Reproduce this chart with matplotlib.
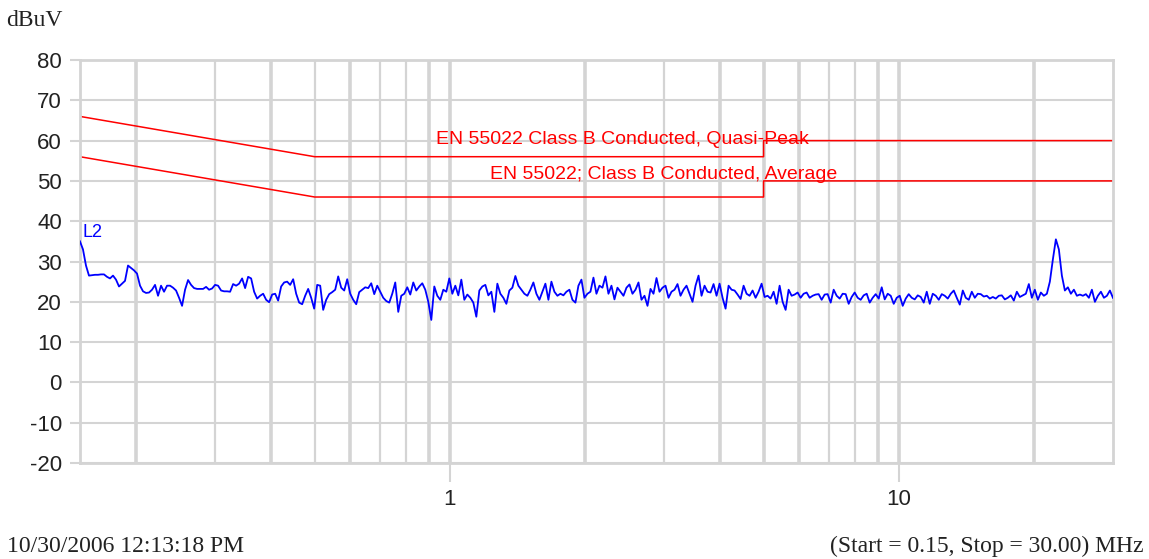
import numpy as np
import matplotlib.pyplot as plt

plt.rcParams["axes.unicode_minus"] = False

# sweep settings (MHz)
start_freq = 0.15
stop_freq = 30.0

# L2 trace, evenly spaced on the log sweep (dBuV)
trace_l2 = [
    35.0, 33.0, 29.0, 26.5, 26.6, 26.7, 26.7, 26.8, 26.8, 26.2, 25.8, 26.5, 25.5, 23.8, 24.5, 25.2,
    29.0, 28.4, 27.8, 27.0, 24.0, 22.6, 22.2, 22.3, 23.0, 24.2, 21.5, 24.0, 22.5, 24.0, 24.0, 23.5,
    22.8, 21.0, 19.0, 23.0, 25.4, 24.2, 23.4, 23.2, 23.2, 23.2, 23.7, 23.0, 23.3, 24.2, 24.0, 22.8,
    22.6, 22.6, 22.5, 24.4, 24.0, 24.5, 25.8, 23.4, 26.2, 25.8,
    22.5, 20.8, 21.5, 22.0, 20.5, 19.9, 21.8, 22.0, 20.3, 23.8, 24.8, 25.0, 24.2, 25.6, 22.0, 19.8,
    19.4, 21.5, 23.2, 21.0, 18.3, 24.2, 24.0, 18.0, 20.5, 21.9, 22.4, 23.0, 26.3, 23.5, 22.8, 25.6,
    22.0, 20.5, 19.4, 22.4, 23.0, 23.6, 23.4, 24.6, 21.9, 24.0, 22.5, 21.0, 20.2, 19.8, 22.0, 24.8,
    17.5, 21.5, 22.0, 23.6, 21.8, 24.8, 22.8, 23.8, 24.6,
    23.0, 20.0, 15.5, 23.8, 21.5, 20.5, 23.0, 22.5, 25.8, 22.0, 24.0, 21.6, 25.5, 20.5, 21.8, 21.0,
    19.8, 16.3, 22.8, 23.8, 24.2, 21.6, 22.5, 17.5, 24.5, 22.0, 21.0, 19.5, 22.8, 23.5, 26.4, 24.0,
    23.0, 22.0, 21.5, 23.0, 24.8, 22.0, 20.5, 22.5, 24.5, 20.5, 25.0, 22.5, 21.5, 22.0, 21.6, 22.5,
    23.0, 20.5, 19.8, 24.0, 25.5, 21.0, 22.0, 22.5, 26.0, 22.0,
    24.0, 23.5, 26.3, 22.0, 24.0, 20.6, 23.5, 22.5, 21.5, 23.5, 24.3, 22.0, 23.0, 24.8, 20.5, 21.5,
    19.0, 23.2, 22.0, 25.9, 22.5, 23.5, 24.0, 21.0, 22.5, 23.0, 24.4, 21.5, 23.0, 24.0, 22.0, 20.0,
    24.0, 26.5, 21.5, 24.0, 22.5, 22.3, 24.4, 21.5, 24.5, 21.0, 18.3, 24.0, 23.0, 22.8, 21.8, 20.7,
    24.0, 22.0, 21.5, 22.8, 21.0, 22.5, 24.5, 21.2, 21.5,
    20.8, 22.5, 19.5, 24.0, 20.0, 18.0, 23.0, 21.5, 21.8, 22.3, 21.0, 22.0, 22.3, 21.0, 21.5, 21.8,
    21.9, 20.5, 21.8, 21.9, 19.8, 23.0, 21.5, 20.8, 22.0, 21.9, 19.5, 21.2, 22.3, 21.0, 20.5, 21.6,
    22.0, 19.8, 21.0, 21.9, 20.8, 23.6, 20.6, 22.0, 21.5, 19.5, 21.0, 21.5, 19.0, 20.8, 21.9, 21.0,
    20.6, 21.6, 21.2, 19.8, 22.5, 19.5, 22.0, 21.5, 20.5, 21.9,
    21.5, 20.8, 22.0, 22.8, 21.0, 19.3, 22.8, 21.0, 20.5, 22.5, 21.0, 22.0, 21.9, 21.3, 21.5, 20.8,
    21.2, 20.8, 21.5, 21.6, 20.6, 21.0, 21.6, 20.3, 22.5, 21.2, 21.6, 22.0, 24.4, 21.0, 23.0, 20.5,
    22.3, 21.5, 22.0, 25.0, 30.5, 35.5, 33.0, 26.5, 22.8, 23.6, 22.0, 23.0, 21.5, 21.8, 21.5, 21.9,
    21.0, 23.0, 20.0, 21.5, 22.5, 21.0, 21.5, 22.8, 21.0,
]

# EN 55022 class B conducted limits
qp_freq = [0.15, 0.5, 5.0, 5.0, 30.0]
qp_limit = [66, 56, 56, 60, 60]
avg_freq = [0.15, 0.5, 5.0, 5.0, 30.0]
avg_limit = [56, 46, 46, 50, 50]

y_ticks = [-20, -10, 0, 10, 20, 30, 40, 50, 60, 70, 80]
x_ticks = [1, 10]
x_tick_labels = ["1", "10"]

grid_gray = "#d4d4d4"

fig = plt.figure(figsize=(11.49, 5.59), dpi=100)
ax = fig.add_axes([0.0696, 0.1717, 0.899, 0.721])

freq = np.geomspace(start_freq, stop_freq, len(trace_l2))

# vertical grid, thicker on some lines as in the original export
thick = {0.2, 0.4, 0.6, 0.9, 1, 2, 4, 5, 6, 9, 10, 20}
for dec in [0.1, 1, 10]:
    for m in range(1, 10):
        f = round(m * dec, 3)
        if f <= start_freq or f >= stop_freq:
            continue
        ax.axvline(f, color=grid_gray, lw=2.6 if f in thick else 1.6, zorder=0)
for y in y_ticks:
    ax.axhline(y, color=grid_gray, lw=1.5, zorder=0)

ax.plot(qp_freq, qp_limit, color="#ff0000", lw=1.1, zorder=2)
ax.plot(avg_freq, avg_limit, color="#ff0000", lw=1.1, zorder=2)
ax.plot(freq, trace_l2, color="#0000ff", lw=1.3, zorder=3)

ax.text(6.3, 60.2, "EN 55022 Class B Conducted, Quasi-Peak", color="#ff0000",
        fontsize=14, family="Liberation Sans", ha="right", va="center", zorder=4)
ax.text(7.3, 51.6, "EN 55022; Class B Conducted, Average", color="#ff0000",
        fontsize=14, family="Liberation Sans", ha="right", va="center", zorder=4)
ax.text(0.152, 37.3, "L2", color="#0000ff", fontsize=13, family="Liberation Sans",
        ha="left", va="center", zorder=4)

ax.set_xscale("log")
ax.set_xlim(start_freq, stop_freq)
ax.set_ylim(-20, 80)
ax.set_yticks(y_ticks)
ax.set_xticks(x_ticks)
ax.set_xticklabels(x_tick_labels)
ax.xaxis.set_minor_locator(plt.NullLocator())

for s in ax.spines.values():
    s.set_color(grid_gray)
    s.set_linewidth(2.0)

ax.tick_params(axis="y", length=7, width=1.5, color=grid_gray, pad=6,
               labelsize=16, labelcolor="#222222")
ax.tick_params(axis="x", length=14, width=1.5, color=grid_gray, pad=5,
               labelsize=16, labelcolor="#222222")
for lab in ax.get_xticklabels() + ax.get_yticklabels():
    lab.set_family("Liberation Sans")

fig.text(0.005, 0.963, "dBuV", family="Liberation Serif", fontsize=17,
         ha="left", va="center", color="#222222")
fig.text(0.006, 0.022, "10/30/2006 12:13:18 PM", family="Liberation Serif",
         fontsize=17, ha="left", va="center", color="#222222")
fig.text(0.995, 0.022, "(Start = 0.15, Stop = 30.00) MHz", family="Liberation Serif",
         fontsize=17, ha="right", va="center", color="#222222")

fig.savefig("out.png", dpi=100)
